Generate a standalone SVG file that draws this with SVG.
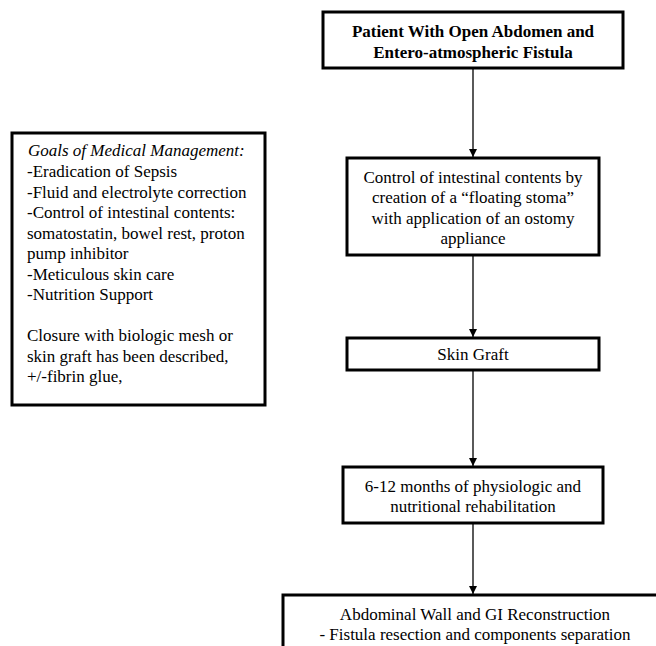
<svg xmlns="http://www.w3.org/2000/svg" width="656" height="646" viewBox="0 0 656 646">
<defs>
<style>
.box{fill:#fff;stroke:#000;stroke-width:3}
.t{font-family:'Liberation Serif','Times New Roman',Tinos,'DejaVu Serif',serif;font-size:17px;fill:#000}
.c{text-anchor:middle}
.b{font-weight:bold}
.i{font-style:italic}
.edge{stroke:#000;stroke-width:1.3;fill:none;marker-end:url(#arr)}
</style>
<marker id="arr" viewBox="0 0 10 10" refX="10" refY="5" markerUnits="userSpaceOnUse" markerWidth="8" markerHeight="8" orient="auto">
<path d="M0,0 L10,5 L0,10 z" fill="#000"/>
</marker>
</defs>
<rect width="656" height="646" fill="#fff"/>
<g id="connectors">
<line class="edge" x1="473" y1="69" x2="473" y2="157"/>
<line class="edge" x1="473" y1="256" x2="473" y2="337"/>
<line class="edge" x1="473" y1="371" x2="473" y2="466"/>
<line class="edge" x1="473" y1="524" x2="473" y2="594"/>
</g>
<g id="n-start">
<rect class="box" x="323" y="12" width="300" height="56"/>
<text class="t c b" x="473" y="37">Patient With Open Abdomen and</text>
<text class="t c b" x="473" y="58">Entero-atmospheric Fistula</text>
</g>
<g id="n-goals">
<rect class="box" x="12" y="133" width="253" height="272"/>
<text class="t i" x="28" y="156">Goals of Medical Management:</text>
<text class="t" x="27" y="177">-Eradication of Sepsis</text>
<text class="t" x="27" y="198">-Fluid and electrolyte correction</text>
<text class="t" x="27" y="218">-Control of intestinal contents:</text>
<text class="t" x="27" y="239">somatostatin, bowel rest, proton</text>
<text class="t" x="27" y="259">pump inhibitor</text>
<text class="t" x="27" y="280">-Meticulous skin care</text>
<text class="t" x="27" y="300">-Nutrition Support</text>
<text class="t" x="27" y="341">Closure with biologic mesh or</text>
<text class="t" x="27" y="362">skin graft has been described,</text>
<text class="t" x="27" y="382">+/-fibrin glue,</text>
</g>
<g id="n-stoma">
<rect class="box" x="347" y="158" width="252" height="97"/>
<text class="t c" x="473" y="183">Control of intestinal contents by</text>
<text class="t c" x="473" y="203">creation of a “floating stoma”</text>
<text class="t c" x="473" y="224">with application of an ostomy</text>
<text class="t c" x="473" y="244">appliance</text>
</g>
<g id="n-graft">
<rect class="box" x="347" y="338" width="252" height="32"/>
<text class="t c" x="473" y="360">Skin Graft</text>
</g>
<g id="n-rehab">
<rect class="box" x="343" y="467" width="260" height="56"/>
<text class="t c" x="473" y="492">6-12 months of physiologic and</text>
<text class="t c" x="473" y="512">nutritional rehabilitation</text>
</g>
<g id="n-recon">
<rect class="box" x="283" y="595" width="384" height="70"/>
<text class="t c" x="475" y="620">Abdominal Wall and GI Reconstruction</text>
<text class="t c" x="475" y="640">- Fistula resection and components separation</text>
</g>
</svg>
